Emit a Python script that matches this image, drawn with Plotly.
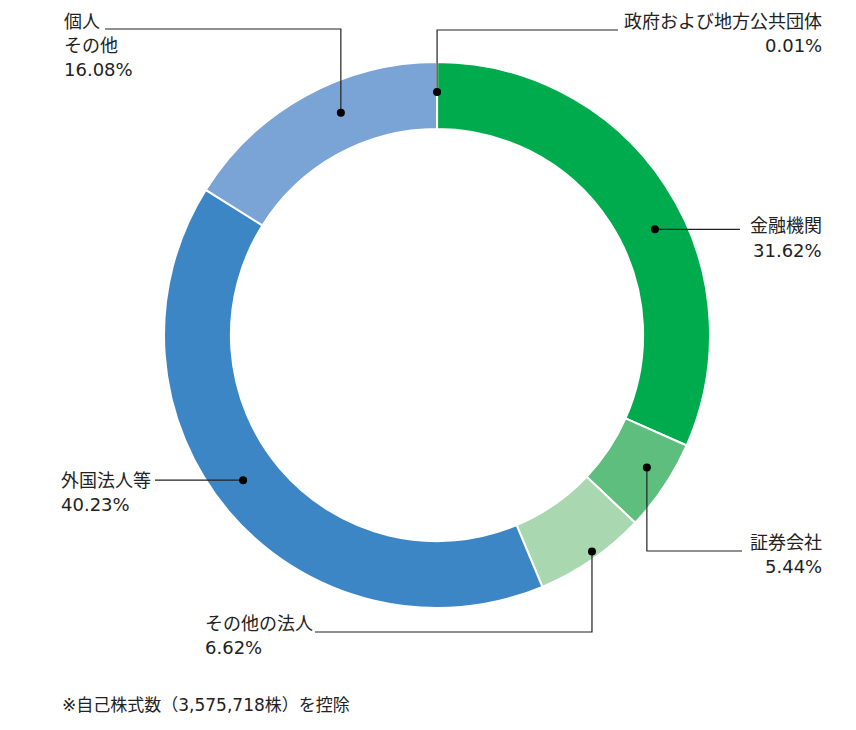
import math
import plotly.graph_objects as go

# 所有者別株式分布
categories = ["政府および地方公共団体", "金融機関", "証券会社", "その他の法人", "外国法人等", "個人その他"]
label_lines = [["政府および地方公共団体"], ["金融機関"], ["証券会社"], ["その他の法人"], ["外国法人等"], ["個人", "その他"]]
shares = [0.01, 31.62, 5.44, 6.62, 40.23, 16.08]
colors = ["#00843D", "#00AB4E", "#5DBE7D", "#A8D7B0", "#3C86C6", "#7AA3D6"]
note = "※自己株式数（3,575,718株）を控除"

W, H = 856, 730
CX, CY, R = 437, 335, 273
HOLE = 0.755
LINE_H = 24

# leader layout per label (pixels): dot position within slice (angle / ring depth),
# elbow / line end, text position
leaders = [
    dict(frac=0.5, depth=0.55, mode="v", ly=30, lx=618, tx=824, ty=22, side="right"),
    dict(frac=0.563, depth=0.54, mode="h", lx=740, tx=824, ty=226, side="right"),
    dict(frac=0.43, depth=0.63, mode="v", ly=551, lx=742, tx=824, ty=542, side="right"),
    dict(frac=0.46, depth=0.9, mode="v", ly=632, lx=315, tx=203, ty=623, side="left"),
    dict(frac=0.524, depth=0.54, mode="h", lx=155, tx=59, ty=480, side="left"),
    dict(frac=0.596, depth=0.54, mode="v", ly=29, lx=105, tx=62, ty=22, side="left"),
]


def px(x):
    return x / W


def py(y):
    return 1 - y / H


fig = go.Figure(go.Pie(
    labels=categories,
    values=shares,
    sort=False,
    direction="clockwise",
    rotation=0,
    hole=HOLE,
    marker=dict(colors=colors, line=dict(color="white", width=2)),
    textinfo="none",
    hoverinfo="label+percent",
    showlegend=False,
    domain=dict(x=[px(CX - R), px(CX + R)], y=[py(CY + R), py(CY - R)]),
))

total = sum(shares)
start = 0.0
shapes = []
annotations = []
for lines, v, ld in zip(label_lines, shares, leaders):
    ang = 2 * math.pi * (start + v * ld["frac"]) / total
    start += v
    rd = R * HOLE + (R - R * HOLE) * ld["depth"]
    dx = CX + rd * math.sin(ang)
    dy = CY - rd * math.cos(ang)
    ly = ld["ly"] if ld["mode"] == "v" else dy
    pts = [(dx, dy), (dx, ly), (ld["lx"], ly)]
    path = "M " + " L ".join(f"{px(a)},{py(b)}" for a, b in pts)
    shapes.append(dict(type="path", xref="paper", yref="paper", path=path,
                       line=dict(color="#222222", width=1.2)))
    shapes.append(dict(type="circle", xref="paper", yref="paper",
                       x0=px(dx - 4), x1=px(dx + 4), y0=py(dy + 4), y1=py(dy - 4),
                       fillcolor="black", line=dict(width=0)))
    for i, t in enumerate(lines + [f"{v:.2f}%"]):
        annotations.append(dict(
            xref="paper", yref="paper", x=px(ld["tx"]), y=py(ld["ty"] + i * LINE_H),
            xanchor=ld["side"], yanchor="middle",
            text=t, showarrow=False,
            font=dict(size=18, color="#222222"),
        ))

annotations.append(dict(
    xref="paper", yref="paper", x=px(60), y=py(705), xanchor="left", yanchor="middle",
    text=note, showarrow=False, font=dict(size=17, color="#222222"),
))

fig.update_layout(
    width=W, height=H,
    margin=dict(l=0, r=0, t=0, b=0),
    paper_bgcolor="white",
    plot_bgcolor="white",
    font=dict(family="DejaVu Sans, Noto Sans CJK JP, sans-serif"),
    shapes=shapes,
    annotations=annotations,
)

fig.write_html("out.html", config={"displayModeBar": False},
               post_script="document.body.style.margin='0';")
